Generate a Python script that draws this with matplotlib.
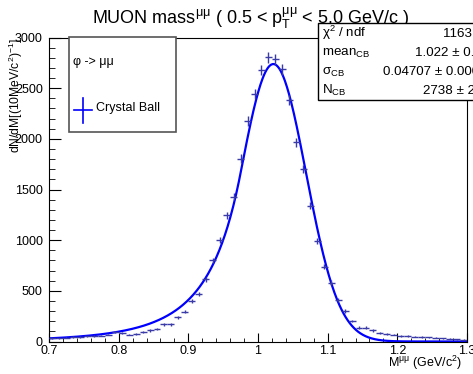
import numpy as np
import matplotlib
matplotlib.use("Agg")
import matplotlib.pyplot as plt
from matplotlib.patches import Rectangle
from matplotlib.lines import Line2D

plt.rcParams['font.family'] = ['Liberation Sans', 'DejaVu Sans']
plt.rcParams['mathtext.fontset'] = 'custom'
plt.rcParams['mathtext.rm'] = 'Liberation Sans'
plt.rcParams['mathtext.it'] = 'Liberation Sans:italic'
plt.rcParams['mathtext.bf'] = 'Liberation Sans:bold'

# data (10 MeV bins)
bin_centers = np.round(np.arange(0.705, 1.3, 0.01), 3)
counts = [30, 33, 36, 45, 45, 50, 52, 58, 68, 92,
          86, 69, 76, 92, 109, 125, 168, 168, 240, 296,
          400, 471, 612, 800, 1004, 1244, 1430, 1803, 2178, 2445,
          2680, 2803, 2785, 2686, 2382, 1967, 1704, 1342, 990, 740,
          579, 405, 302, 202, 137, 137, 109, 86, 76, 69,
          55, 52, 48, 45, 40, 36, 33, 28, 22, 16]

# fit result shown in the stat box
mean_cb = 1.022
sigma_cb = 0.04707
n_cb = 2738
alpha_cb = 1.0   # tail parameters guessed from the curve shape
nexp_cb = 5.5

stat_labels = [r"$\mathrm{χ^{2}}$ / ndf", r"mean$_{\mathrm{CB}}$",
               r"$\mathrm{σ_{CB}}$", r"N$_{\mathrm{CB}}$"]
stat_values = ["1163 / 57", "1.022 ± 0.000", "0.04707 ± 0.00047", "2738 ± 25.3"]


def crystal_ball(x, N, mu, sig, a, n):
    t = (x - mu) / sig
    A = (n / a) ** n * np.exp(-a * a / 2)
    B = n / a - a
    tc = np.minimum(t, -a)
    tail = A * (B - tc) ** (-n)
    return N * np.where(t > -a, np.exp(-t * t / 2), tail)


W, H = 473, 374
fig = plt.figure(figsize=(W / 100, H / 100), dpi=100)
ax = fig.add_axes([49 / W, 1 - 341.5 / H, (467 - 49) / W, (341.5 - 37.5) / H])

xs = np.linspace(0.7, 1.3, 600)
ax.plot(xs, crystal_ball(xs, n_cb, mean_cb, sigma_cb, alpha_cb, nexp_cb),
        color='#0000ff', lw=1.6, zorder=2)

cnt = np.array(counts, dtype=float)
ax.errorbar(bin_centers, cnt, xerr=0.005, yerr=np.sqrt(cnt), fmt='none',
            ecolor='#3a3aa8', elinewidth=1.0, capsize=0, zorder=3)

ax.set_xlim(0.7, 1.3)
ax.set_ylim(0, 3000)
ax.set_xticks(np.arange(0.7, 1.31, 0.1))
ax.set_xticklabels(['0.7', '0.8', '0.9', '1', '1.1', '1.2', '1.3'])
ax.set_xticks(np.arange(0.7, 1.3, 0.02), minor=True)
ax.set_yticks(np.arange(0, 3001, 500))
ax.set_yticks(np.arange(0, 3001, 100), minor=True)
ax.tick_params(axis='both', which='both', direction='in', labelsize=9,
               top=False, right=False)
ax.tick_params(axis='x', which='major', length=6.5, pad=2.5)
ax.tick_params(axis='x', which='minor', length=3.2)
ax.tick_params(axis='y', which='major', length=8.6, pad=4.5)
ax.tick_params(axis='y', which='minor', length=4.3)

# title
fig.text(251 / W, 1 - 18 / H,
         r"MUON mass$^{\mathrm{μμ}}$ ( 0.5 < p$_{\mathrm{T}}^{\mathrm{μμ}}$ < 5.0 GeV/c )",
         ha='center', va='center', fontsize=13)

# axis titles
fig.text(462 / W, 1 - 363 / H, r"M$^{\mathrm{μμ}}$ (GeV/c$^{2}$)",
         ha='right', va='center', fontsize=9)
fig.text(16 / W, 1 - 38 / H, r"dN/dM[(10MeV/c$^{2}$)$^{-1}$]",
         rotation=90, ha='center', va='top', fontsize=8.7)

# legend box
tf = fig.transFigure
fig.patches.append(Rectangle((69 / W, 1 - 131.7 / H), (175.7 - 69) / W, (131.7 - 37.5) / H,
                             transform=tf, facecolor='white', edgecolor='#555555',
                             lw=1.2, zorder=5))
fig.text(73 / W, 1 - 62 / H, "φ -> μμ", ha='left', va='center', fontsize=9, zorder=6)
fig.lines.append(Line2D([74 / W, 92 / W], [1 - 110 / H, 1 - 110 / H], transform=tf,
                        color='#0000ff', lw=1.2, zorder=6))
fig.lines.append(Line2D([83 / W, 83 / W], [1 - 98 / H, 1 - 123 / H], transform=tf,
                        color='#0000ff', lw=1.2, zorder=6))
fig.text(96 / W, 1 - 108 / H, "Crystal Ball", ha='left', va='center', fontsize=9, zorder=6)

# stat box
fig.patches.append(Rectangle((318 / W, 1 - 100 / H), 200 / W, 77.3 / H,
                             transform=tf, facecolor='white', edgecolor='black',
                             lw=1.0, zorder=5))
label_y = [36.7, 56, 75, 94]
value_x = [442.7, 415, 382.7, 423]
for lbl, val, yb, xv in zip(stat_labels, stat_values, label_y, value_x):
    fig.text(321.5 / W, 1 - yb / H, lbl, ha='left', va='baseline', fontsize=9.6, zorder=6)
    fig.text(xv / W, 1 - yb / H, val, ha='left', va='baseline', fontsize=9.6, zorder=6)

fig.savefig("out.png", dpi=100)
